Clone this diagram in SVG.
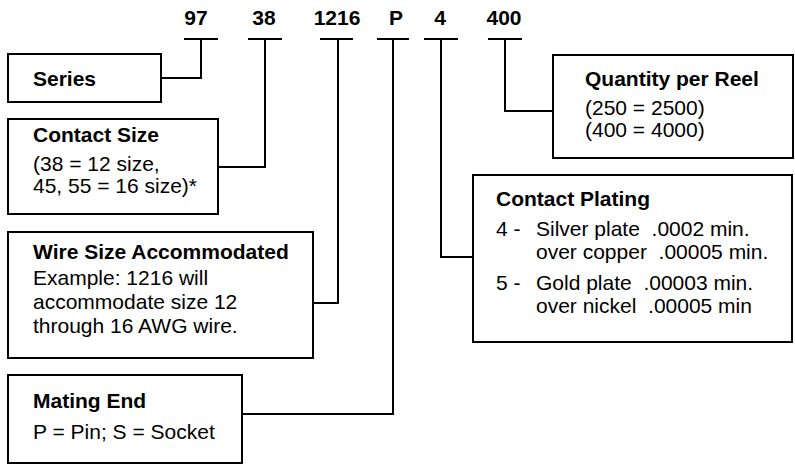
<svg xmlns="http://www.w3.org/2000/svg" width="795" height="464" viewBox="0 0 795 464">
<style>
text{font-family:"Liberation Sans",Arial,sans-serif;font-size:21px;fill:#000;white-space:pre}
.b{font-weight:bold}
.n{font-weight:bold;font-size:21px;text-anchor:middle}
.box{fill:#fff;stroke:#000;stroke-width:2}
.ln{fill:none;stroke:#000;stroke-width:2}
</style>
<rect width="795" height="464" fill="#fff"/>
<g id="codes">
<text class="n" x="196" y="25">97</text>
<text class="n" x="264" y="25">38</text>
<text class="n" x="337" y="25">1216</text>
<text class="n" x="396" y="25">P</text>
<text class="n" x="440" y="25">4</text>
<text class="n" x="504" y="25">400</text>
</g>
<g id="connectors">
<path class="ln" d="M184,39H218M201,39V78H161"/>
<path class="ln" d="M248,39H282M265,39V167H218"/>
<path class="ln" d="M320,39H353M338,39V303H313"/>
<path class="ln" d="M377,39H409M393,39V414H242"/>
<path class="ln" d="M424,39H458M441,39V257H473"/>
<path class="ln" d="M488,39H522M505,39V111H553"/>
</g>
<g id="series">
<rect class="box" x="8" y="54" width="153" height="48"/>
<text class="b" x="33" y="86">Series</text>
</g>
<g id="contact-size">
<rect class="box" x="8" y="119" width="210" height="95"/>
<text class="b" x="33" y="142">Contact Size</text>
<text x="33" y="171">(38 = 12 size,</text>
<text x="33" y="193">45, 55 = 16 size)*</text>
</g>
<g id="wire-size">
<rect class="box" x="8" y="232" width="305" height="126"/>
<text class="b" x="33" y="259">Wire Size Accommodated</text>
<text x="33" y="285">Example: 1216 will</text>
<text x="33" y="309">accommodate size 12</text>
<text x="33" y="333">through 16 AWG wire.</text>
</g>
<g id="mating-end">
<rect class="box" x="8" y="375" width="234" height="88"/>
<text class="b" x="33" y="408">Mating End</text>
<text x="33" y="439">P = Pin; S = Socket</text>
</g>
<g id="quantity">
<rect class="box" x="553" y="55" width="240" height="103"/>
<text class="b" x="585" y="86">Quantity per Reel</text>
<text x="585" y="115">(250 = 2500)</text>
<text x="585" y="137">(400 = 4000)</text>
</g>
<g id="contact-plating">
<rect class="box" x="473" y="175" width="319" height="167"/>
<text class="b" x="496" y="206">Contact Plating</text>
<text x="496" y="236">4 -</text>
<text x="536" y="236">Silver plate  .0002 min.</text>
<text x="536" y="259">over copper  .00005 min.</text>
<text x="496" y="290">5 -</text>
<text x="536" y="290">Gold plate  .00003 min.</text>
<text x="536" y="313">over nickel  .00005 min</text>
</g>
</svg>
